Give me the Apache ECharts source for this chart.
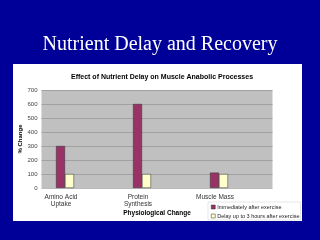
<!DOCTYPE html>
<html>
<head>
<meta charset="utf-8">
<script src="https://cdn.jsdelivr.net/npm/echarts@6/dist/echarts.min.js"></script>
<style>
  html, body { margin: 0; padding: 0; background: #000099; }
  #chart { width: 320px; height: 240px; }
</style>
</head>
<body>
<div id="chart"></div>
<script>
var categories = ['Amino Acid\nUptake', 'Protein\nSynthesis', 'Muscle Mass'];
var seriesNames = ['Immediately after exercise', 'Delay up to 3 hours after exercise'];
var immediate = [300, 600, 110];
var delayed = [100, 100, 100];
var yTicks = [0, 700, 100]; // min, max, step

var myChart = echarts.init(document.getElementById('chart'));

var smallFont = 'Liberation Sans, Arial, sans-serif';

var option = {
    backgroundColor: '#000099',
    animation: false,
    title: [
        {
            text: 'Nutrient Delay and Recovery',
            left: 'center',
            top: 30,
            textStyle: { color: '#fff', fontFamily: 'Liberation Serif, Times New Roman, serif', fontSize: 20, fontWeight: 'normal' }
        },
        {
            text: 'Effect of Nutrient Delay on Muscle Anabolic Processes',
            left: 157,
            textAlign: 'center',
            top: 69,
            textStyle: { color: '#000', fontFamily: smallFont, fontSize: 7, fontWeight: 'bold' }
        }
    ],
    graphic: [
        {
            type: 'rect',
            z: -10,
            shape: { x: 13, y: 64, width: 289, height: 157 },
            style: { fill: '#fff' }
        }
    ],
    legend: {
        orient: 'vertical',
        left: 208,
        top: 202,
        icon: 'rect',
        itemWidth: 4,
        itemHeight: 4,
        itemGap: 3,
        padding: [2, 1, 1, 3],
        borderColor: '#ccc',
        borderWidth: 0.5,
        textStyle: { fontFamily: smallFont, fontSize: 5.5, color: '#222', padding: [0, 0, 0, -3] },
        itemStyle: { borderColor: '#333', borderWidth: 0.5 },
        data: seriesNames
    },
    grid: [
        { left: 41.5, top: 90, width: 231, height: 98, show: true, backgroundColor: '#c0c0c0', borderWidth: 0 },
        { left: 26.5, top: 90, width: 231, height: 98 }
    ],
    xAxis: [
        {
            gridIndex: 0,
            type: 'value',
            name: 'Physiological Change',
            nameLocation: 'middle',
            nameGap: 22,
            nameMoveOverlap: false,
            nameTextStyle: { fontFamily: smallFont, fontSize: 6.5, fontWeight: 'bold', color: '#000' },
            axisLine: { show: false },
            axisTick: { show: false },
            axisLabel: { show: false },
            splitLine: { show: false }
        },
        {
            gridIndex: 1,
            type: 'category',
            data: categories,
            axisLine: { show: false },
            axisTick: { show: false },
            axisLabel: {
                fontFamily: smallFont, fontSize: 6.5, color: '#333',
                margin: 5, lineHeight: 7.5, padding: [0, 8, 0, 0]
            }
        }
    ],
    yAxis: [
        {
            gridIndex: 0,
            type: 'value',
            min: yTicks[0],
            max: yTicks[1],
            interval: yTicks[2],
            name: '% Change',
            nameLocation: 'middle',
            nameGap: 18,
            nameMoveOverlap: false,
            nameTextStyle: { fontFamily: smallFont, fontSize: 6, fontWeight: 'bold', color: '#000' },
            axisLine: { show: false },
            axisTick: { show: false },
            axisLabel: { fontFamily: smallFont, fontSize: 6, color: '#444', margin: 4 },
            splitLine: { lineStyle: { color: '#8c8c8c', width: 0.6 } }
        },
        {
            gridIndex: 1,
            type: 'value',
            min: yTicks[0],
            max: yTicks[1],
            interval: yTicks[2],
            show: false,
            splitLine: { show: false }
        }
    ],
    series: [
        {
            name: seriesNames[0],
            type: 'bar',
            xAxisIndex: 1,
            yAxisIndex: 1,
            barWidth: 9,
            barGap: '0%',
            data: immediate,
            itemStyle: { color: '#993366', borderColor: '#333', borderWidth: 0.5 }
        },
        {
            name: seriesNames[1],
            type: 'bar',
            xAxisIndex: 1,
            yAxisIndex: 1,
            barWidth: 9,
            barGap: '0%',
            data: delayed,
            itemStyle: { color: '#ffffcc', borderColor: '#333', borderWidth: 0.5 }
        }
    ]
};

myChart.setOption(option);
</script>
</body>
</html>
